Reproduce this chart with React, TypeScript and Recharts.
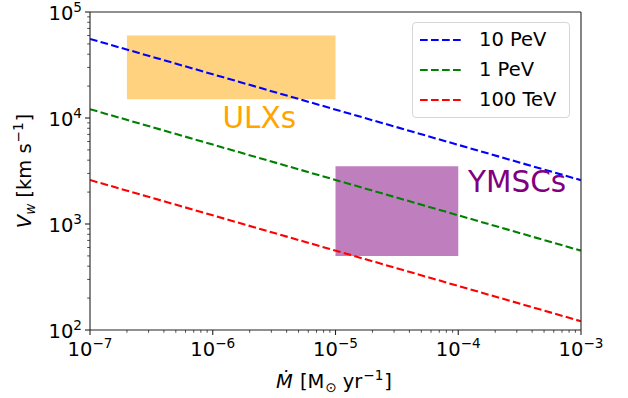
import React from 'react';
import {
  ComposedChart, Line, XAxis, YAxis, ReferenceArea, ReferenceDot, ReferenceLine,
} from 'recharts';

// wind speed lines, V_w vs mass loss rate (end points, straight in log-log)
const mdot = [1e-7, 1e-3];
const v10PeV = [55700, 2590];
const v1PeV = [12100, 560];
const v100TeV = [2600, 121];

const series = [
  { key: 'v10PeV', name: '10 PeV', color: '#0000ff' },
  { key: 'v1PeV', name: '1 PeV', color: '#008000' },
  { key: 'v100TeV', name: '100 TeV', color: '#ff0000' },
];

// source regions
const ulx = { x1: 2e-7, x2: 1e-5, y1: 1.5e4, y2: 6e4, label: 'ULXs', lx: 1.2e-6, ly: 8e3 };
const ymsc = { x1: 1e-5, x2: 1e-4, y1: 500, y2: 3500, label: 'YMSCs', lx: 1.2e-4, ly: 2e3 };

const xDecades = [-7, -6, -5, -4, -3];
const yDecades = [2, 3, 4, 5];
const minorSteps = [2, 3, 4, 5, 6, 7, 8, 9];

// major + minor ticks, labels only on the decades
const xTicks = xDecades.flatMap(e => (e < -3 ? [1, ...minorSteps] : [1]).map(m => m * Math.pow(10, e)));
const yTicks = yDecades.flatMap(e => (e < 5 ? [1, ...minorSteps] : [1]).map(m => m * Math.pow(10, e)));

const data = mdot.map((m, i) => ({
  mdot: m,
  v10PeV: v10PeV[i],
  v1PeV: v1PeV[i],
  v100TeV: v100TeV[i],
}));

const FONT = 'DejaVu Sans';
const AXIS = '#222';

const isMajor = (v: number) => {
  const l = Math.log10(v);
  return Math.abs(l - Math.round(l)) < 1e-6;
};

const expOf = (v: number) => {
  const e = Math.round(Math.log10(v));
  return e < 0 ? '\u2212' + Math.abs(e) : String(e);
};

const XTick = ({ x, y, payload }: any) => {
  const major = isMajor(payload.value);
  return (
    <g>
      <line x1={x} y1={y} x2={x} y2={y + (major ? 5 : 2.8)} stroke={AXIS} strokeWidth={major ? 1.1 : 0.8} />
      {major && (
        <text x={x} y={y + 26} textAnchor="middle" fontSize={19.5} fontFamily={FONT} fill="#000">
          10<tspan dy={-8} fontSize={13.6}>{expOf(payload.value)}</tspan>
        </text>
      )}
    </g>
  );
};

const YTick = ({ x, y, payload }: any) => {
  const major = isMajor(payload.value);
  return (
    <g>
      <line x1={x - (major ? 5 : 2.8)} y1={y} x2={x} y2={y} stroke={AXIS} strokeWidth={major ? 1.1 : 0.8} />
      {major && (
        <text x={x - 8} y={y + 7.5} textAnchor="end" fontSize={19.5} fontFamily={FONT} fill="#000">
          10<tspan dy={-8} fontSize={13.6}>{expOf(payload.value)}</tspan>
        </text>
      )}
    </g>
  );
};

const regionLabel = (text: string, color: string) => (p: any) => (
  <text x={p.cx} y={p.cy} fontSize={29.5} fontFamily={FONT} fill={color}>{text}</text>
);

const App: React.FC = () => {
  return (
    <div style={{ position: 'absolute', left: 0, top: 0, width: 628, height: 398, background: '#fff', fontFamily: FONT }}>
      <ComposedChart width={628} height={398} data={data} margin={{ top: 12, right: 47, left: 0, bottom: 0 }}>
        <XAxis xAxisId="main" dataKey="mdot" type="number" scale="log" domain={[1e-7, 1e-3]}
          ticks={xTicks} tick={XTick} tickSize={0} tickMargin={0} tickLine={false} height={68}
          axisLine={{ stroke: AXIS, strokeWidth: 1.1 }} allowDataOverflow interval={0} />
        <YAxis yAxisId="main" type="number" scale="log" domain={[100, 100000]}
          ticks={yTicks} tick={YTick} tickSize={0} tickMargin={0} tickLine={false} width={90}
          axisLine={{ stroke: AXIS, strokeWidth: 1.1 }} allowDataOverflow interval={0} />

        <ReferenceArea xAxisId="main" yAxisId="main" x1={ulx.x1} x2={ulx.x2} y1={ulx.y1} y2={ulx.y2}
          fill="#ffa500" fillOpacity={0.5} stroke="none" />
        <ReferenceArea xAxisId="main" yAxisId="main" x1={ymsc.x1} x2={ymsc.x2} y1={ymsc.y1} y2={ymsc.y2}
          fill="#800080" fillOpacity={0.5} stroke="none" />

        {series.map(s => (
          <Line key={s.key} xAxisId="main" yAxisId="main" dataKey={s.key} name={s.name}
            stroke={s.color} strokeWidth={2.1} strokeDasharray="7.7 3.3" dot={false}
            type="linear" isAnimationActive={false} />
        ))}

        {/* top and right frame */}
        <ReferenceLine xAxisId="main" yAxisId="main" y={100000} stroke={AXIS} strokeWidth={1.1} ifOverflow="visible" />
        <ReferenceLine xAxisId="main" yAxisId="main" x={1e-3} stroke={AXIS} strokeWidth={1.1} ifOverflow="visible" />

        <ReferenceDot xAxisId="main" yAxisId="main" x={ulx.lx} y={ulx.ly} r={0}
          shape={regionLabel(ulx.label, '#ffa500')} />
        <ReferenceDot xAxisId="main" yAxisId="main" x={ymsc.lx} y={ymsc.ly} r={0}
          shape={regionLabel(ymsc.label, '#800080')} />

        <text x={334} y={388} textAnchor="middle" fontSize={19.5} fontFamily={FONT} fill="#000">
          <tspan fontStyle="italic">{'\u1E40'}</tspan>
          <tspan dx={7}>[M</tspan>
          <tspan dy={4} dx={1} fontSize={13.6}>{'\u2299'}</tspan>
          <tspan dy={-4} dx={6}>yr</tspan>
          <tspan dy={-8} dx={1} fontSize={13.6}>{'\u22121'}</tspan>
          <tspan dy={8} dx={1}>]</tspan>
        </text>
        <text x={0} y={0} transform="translate(31,171) rotate(-90)" textAnchor="middle" fontSize={19.5}
          fontFamily={FONT} fill="#000">
          <tspan fontStyle="italic">V</tspan>
          <tspan fontStyle="italic" dy={4} fontSize={13.6}>w</tspan>
          <tspan dy={-4} dx={6}>[km s</tspan>
          <tspan dy={-8} dx={1} fontSize={13.6}>{'\u22121'}</tspan>
          <tspan dy={8} dx={1}>]</tspan>
        </text>
      </ComposedChart>

      <div style={{
        position: 'absolute', left: 412, top: 22, width: 158, height: 96, boxSizing: 'border-box',
        border: '1px solid #d6d6d6', borderRadius: 4, background: 'rgba(255,255,255,0.8)',
      }}>
        {series.map((s, i) => (
          <div key={s.key} style={{ position: 'absolute', left: 0, top: 4 + i * 30, height: 26, width: '100%' }}>
            <svg width={50} height={26} style={{ position: 'absolute', left: 7, top: 0 }}>
              <line x1={0} y1={13} x2={43} y2={13} stroke={s.color} strokeWidth={2.1} strokeDasharray="7.7 3.3" />
            </svg>
            <span style={{
              position: 'absolute', left: 66, top: 0, lineHeight: '26px', fontSize: 19.5,
              fontFamily: FONT, color: '#000', whiteSpace: 'nowrap',
            }}>{s.name}</span>
          </div>
        ))}
      </div>
    </div>
  );
};

export default App;
